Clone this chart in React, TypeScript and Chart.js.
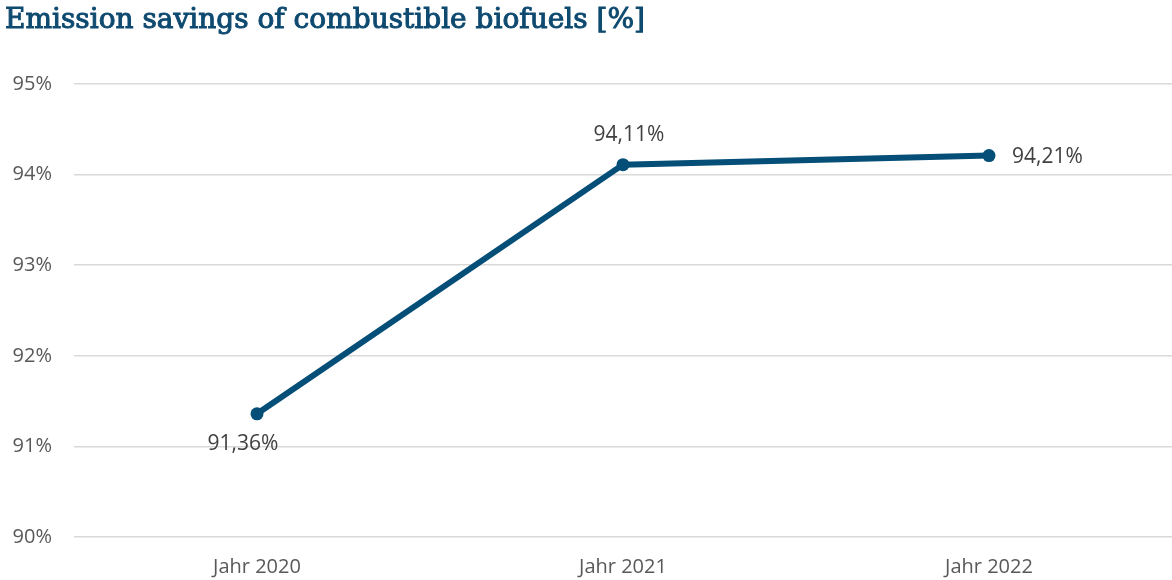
import React, { useEffect, useRef } from "react";
import { Chart, registerables } from "chart.js";

Chart.register(...registerables);

const TITLE = "Emission savings of combustible biofuels [%]";
const categories = ["Jahr 2020", "Jahr 2021", "Jahr 2022"];
const savings = [91.36, 94.11, 94.21];
const valueLabels = ["91,36%", "94,11%", "94,21%"];
// where each value label sits relative to its point
const labelPlacement = ["below", "above", "right"];
const yMin = 90;
const yMax = 95;

const LINE_COLOR = "#044e77";
const TITLE_COLOR = "#0f4a70";
const TEXT_COLOR = "#595959";
const GRID_COLOR = "#d9d9d9";
const SANS = "'Open Sans', 'Noto Sans', sans-serif";

const titlePlugin = {
  id: "pageTitle",
  afterDraw(chart: any) {
    const ctx = chart.ctx;
    ctx.save();
    ctx.font = "28px 'DejaVu Serif', serif";
    ctx.fillStyle = TITLE_COLOR;
    ctx.strokeStyle = TITLE_COLOR;
    ctx.lineWidth = 1;
    ctx.textAlign = "left";
    ctx.textBaseline = "alphabetic";
    ctx.fillText(TITLE, 5, 28);
    ctx.strokeText(TITLE, 5, 28);
    ctx.restore();
  },
};

const valueLabelPlugin = {
  id: "valueLabels",
  afterDatasetsDraw(chart: any) {
    const ctx = chart.ctx;
    const meta = chart.getDatasetMeta(0);
    ctx.save();
    ctx.font = `21px ${SANS}`;
    ctx.fillStyle = "#404040";
    ctx.textBaseline = "middle";
    meta.data.forEach((pt: any, i: number) => {
      const place = labelPlacement[i];
      const text = valueLabels[i];
      if (place === "below") {
        ctx.textAlign = "center";
        ctx.fillText(text, pt.x - 14, pt.y + 30);
      } else if (place === "above") {
        ctx.textAlign = "center";
        ctx.fillText(text, pt.x + 6, pt.y - 30);
      } else {
        ctx.textAlign = "left";
        ctx.fillText(text, pt.x + 23, pt.y + 1);
      }
    });
    ctx.restore();
  },
};

export default function App() {
  const canvasRef = useRef<HTMLCanvasElement>(null);

  useEffect(() => {
    if (!canvasRef.current) return;
    const chart = new Chart(canvasRef.current, {
      type: "line",
      data: {
        labels: categories,
        datasets: [
          {
            data: savings,
            borderColor: LINE_COLOR,
            backgroundColor: LINE_COLOR,
            borderWidth: 6,
            pointRadius: 6.5,
            pointHoverRadius: 6.5,
            pointBackgroundColor: LINE_COLOR,
            pointBorderWidth: 0,
            tension: 0,
          },
        ],
      },
      options: {
        animation: false,
        responsive: false,
        maintainAspectRatio: false,
        layout: { autoPadding: false, padding: { top: 84, left: 0, right: 0, bottom: 0 } },
        plugins: {
          legend: { display: false },
          title: { display: false },
          tooltip: { enabled: false },
        },
        scales: {
          x: {
            offset: true,
            grid: { display: false, drawTicks: false },
            border: { display: false },
            ticks: {
              color: TEXT_COLOR,
              font: { family: SANS, size: 20 },
              padding: 18,
              maxRotation: 0,
            },
            afterFit(scale: any) {
              scale.height = 43;
            },
          },
          y: {
            min: yMin,
            max: yMax,
            grid: { color: GRID_COLOR, lineWidth: 1.5, drawTicks: false },
            border: { display: false },
            ticks: {
              stepSize: 1,
              color: TEXT_COLOR,
              font: { family: SANS, size: 20 },
              padding: 22,
              callback: (v: any) => `${v}%`,
            },
            afterFit(scale: any) {
              scale.width = 74;
            },
          },
        },
      },
      plugins: [titlePlugin, valueLabelPlugin],
    });
    return () => chart.destroy();
  }, []);

  return (
    <div style={{ position: "fixed", left: 0, top: 0, width: 1172, height: 580, background: "#fff" }}>
      <canvas ref={canvasRef} width={1172} height={580} />
    </div>
  );
}
